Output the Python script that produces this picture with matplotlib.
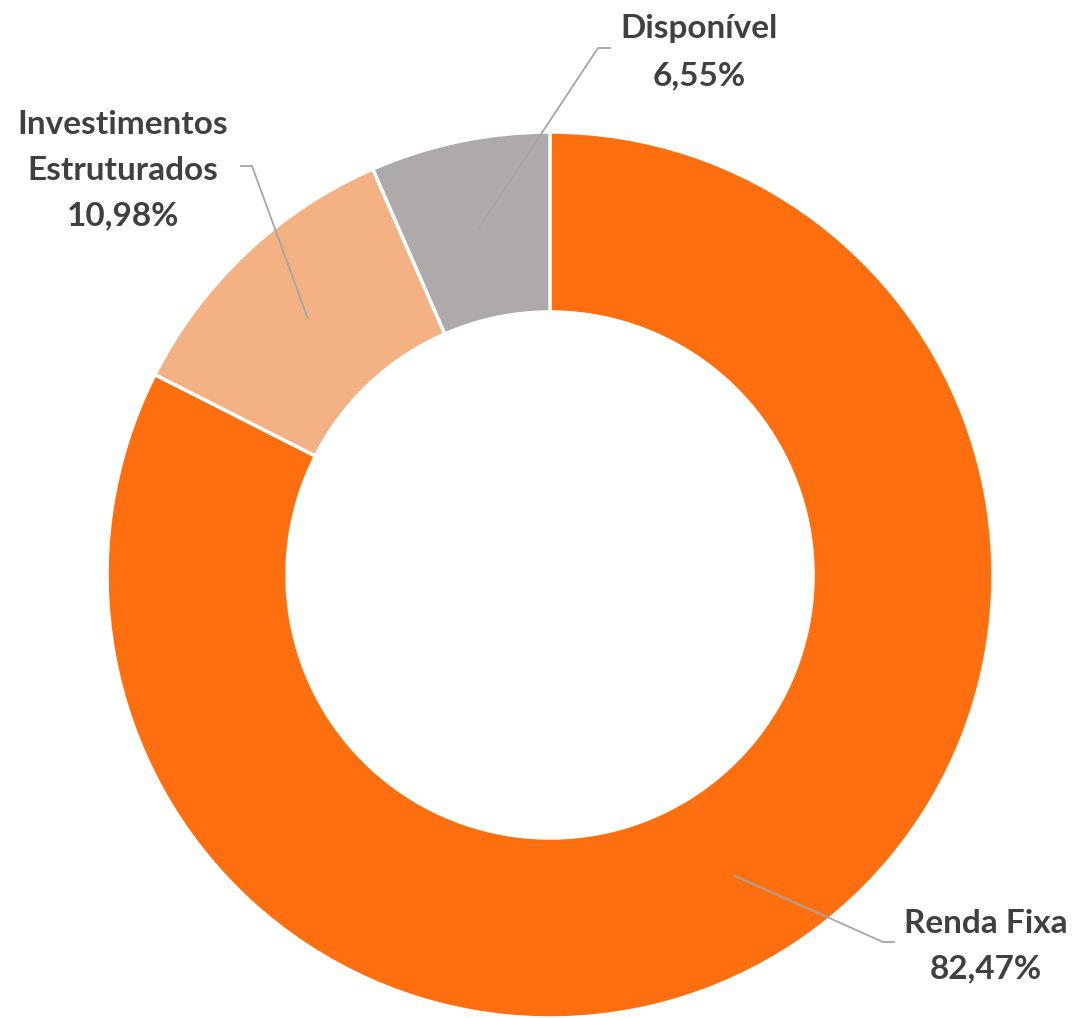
import matplotlib
matplotlib.use("Agg")
import matplotlib.pyplot as plt
import numpy as np

categories = ["Renda Fixa", "Investimentos\nEstruturados", "Disponível"]
values = [82.47, 10.98, 6.55]
value_labels = ["82,47%", "10,98%", "6,55%"]
colors = ["#FF6F0F", "#F4B183", "#AEAAAA"]

W_PX, H_PX = 1076, 1018
fig = plt.figure(figsize=(W_PX / 100, H_PX / 100), dpi=100)
ax = fig.add_axes([0, 0, 1, 1])

cx, cy_top = 550, 575
cy = H_PX - cy_top
R_OUT, R_IN = 443, 263

wedges, _ = ax.pie(values, colors=colors, startangle=90, counterclock=False,
                   radius=R_OUT, center=(cx, cy), frame=False,
                   wedgeprops=dict(width=R_OUT - R_IN, edgecolor="white", linewidth=2.5))
ax.set_xlim(0, W_PX)
ax.set_ylim(0, H_PX)
ax.set_aspect("equal")
ax.axis("off")

# label layout (pixel coords, y measured from top): elbow, end of leader, text center x, baselines
layout = [
    dict(elbow=(883, 942), end=(894, 942), tx=986, base=[933, 978]),
    dict(elbow=(252, 166), end=(241, 166), tx=123, base=[134, 180, 225]),
    dict(elbow=(598, 48), end=(610, 48), tx=699, base=[38, 85]),
]

r_mid = (R_OUT + R_IN) / 2
txt_color = "#404040"
line_color = "#A6A6A6"
for w, cat, vl, lay in zip(wedges, categories, value_labels, layout):
    th = np.deg2rad((w.theta1 + w.theta2) / 2)
    sx, sy = cx + r_mid * np.cos(th), cy + r_mid * np.sin(th)
    ex, ey = lay["elbow"]
    fx, fy = lay["end"]
    ax.plot([sx, ex, fx], [sy, H_PX - ey, H_PX - fy], color=line_color, lw=1.3,
            solid_joinstyle="miter", zorder=5)
    lines = cat.split("\n") + [vl]
    for ln, b in zip(lines, lay["base"]):
        ax.text(lay["tx"], H_PX - b, ln, ha="center", va="baseline",
                fontsize=24, fontweight="bold", color=txt_color, family=["Lato", "DejaVu Sans"])

fig.savefig("out.png", dpi=100)
